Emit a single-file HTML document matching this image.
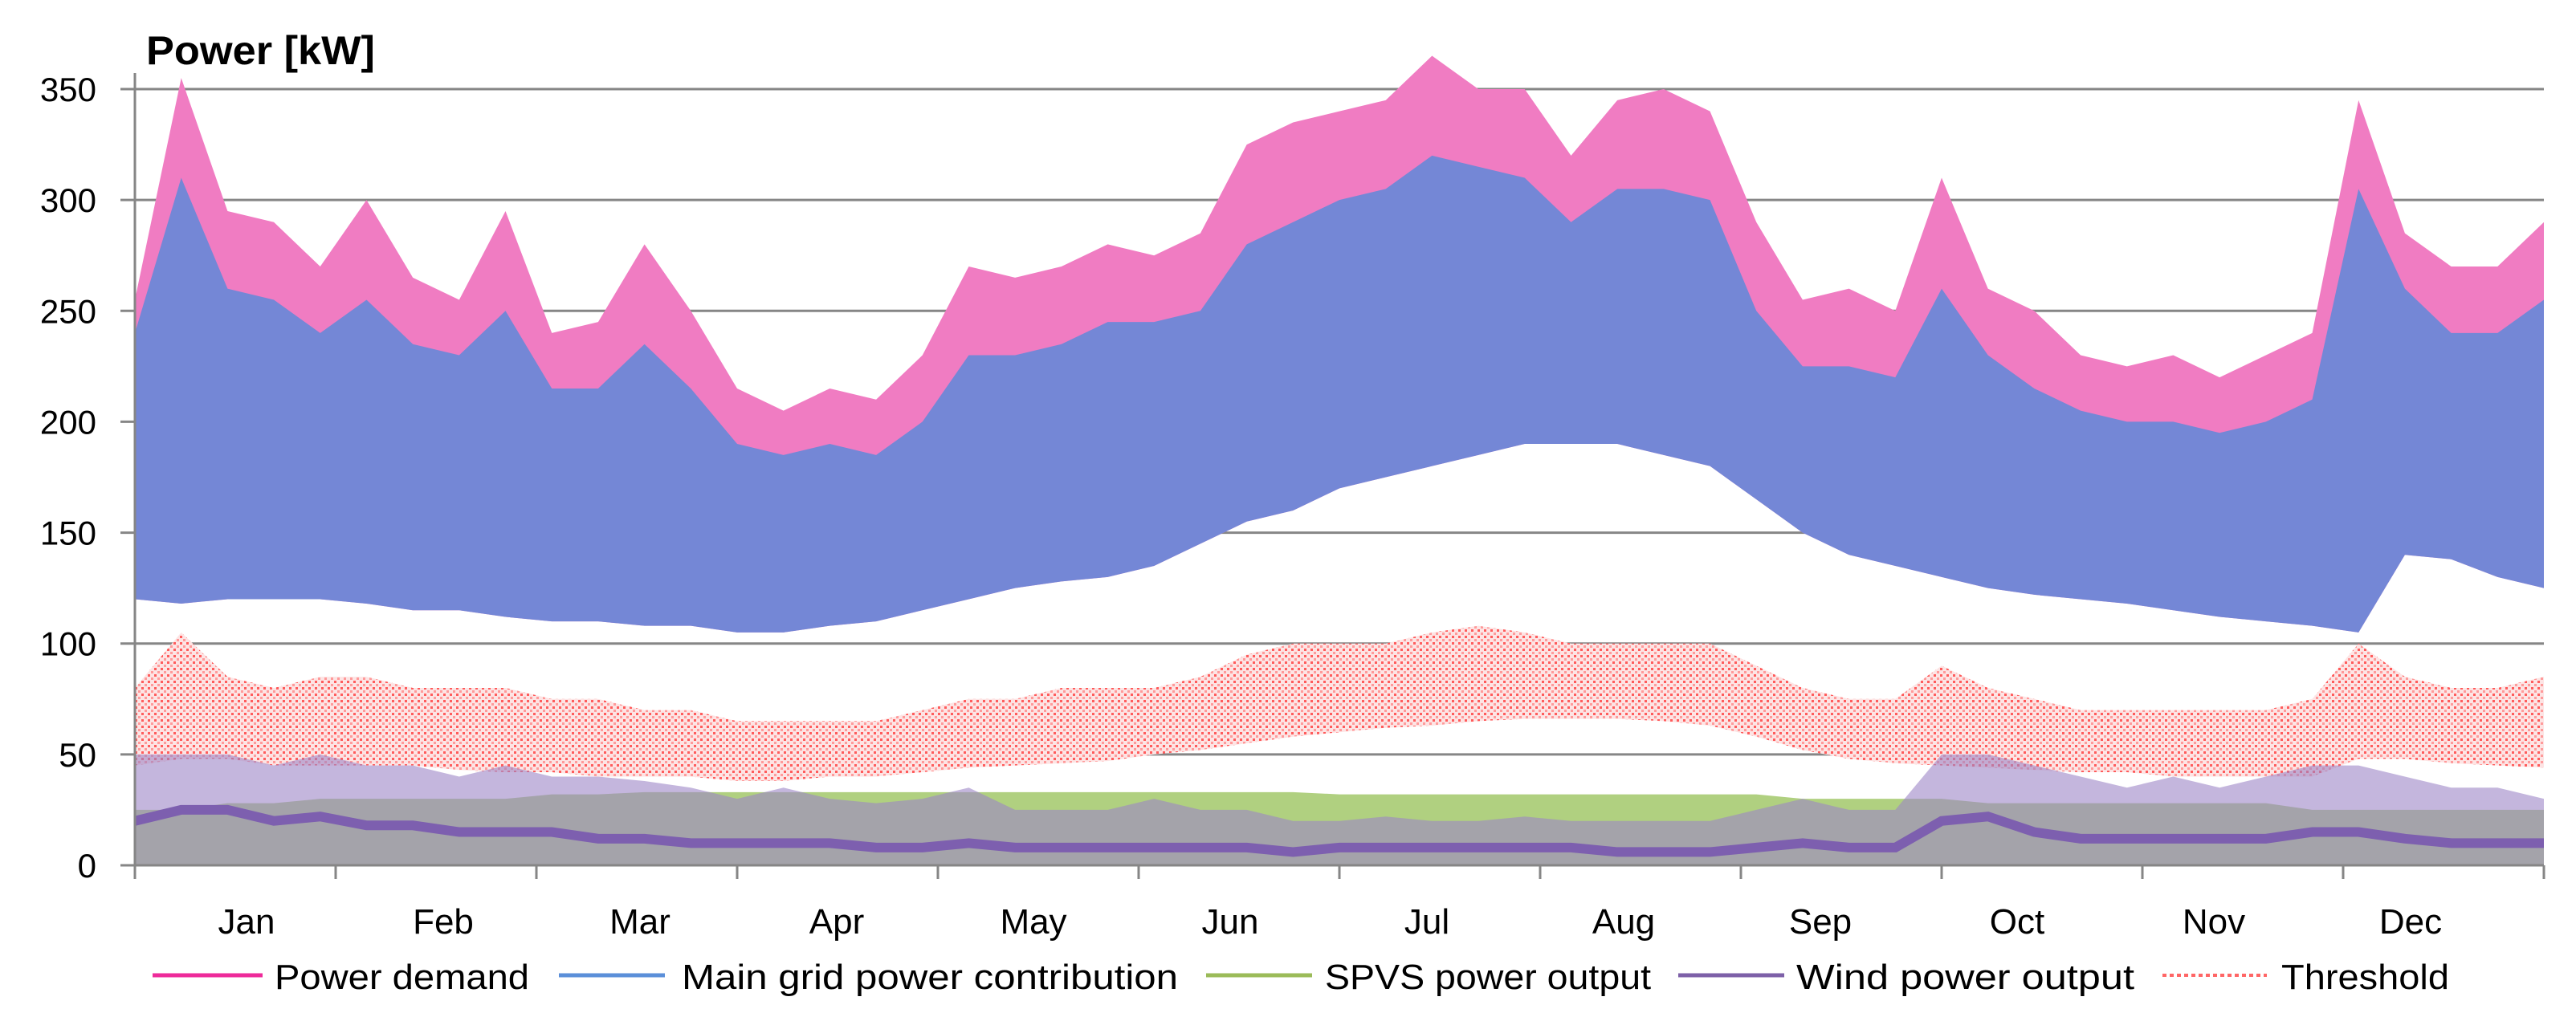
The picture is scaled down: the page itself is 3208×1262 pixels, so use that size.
<!DOCTYPE html>
<html><head><meta charset="utf-8"><style>
html,body{margin:0;padding:0;background:#fff;}
svg{display:block;font-family:"Liberation Sans",Arial,sans-serif;}
</style></head><body>
<svg id="chart" width="3208" height="1262" viewBox="0 0 3208 1262" xmlns="http://www.w3.org/2000/svg">
<defs>
<pattern id="dots" width="8" height="8" patternUnits="userSpaceOnUse">
<rect width="8" height="8" fill="#fde4e4"/><rect x="0" y="0" width="3" height="3" fill="#ff5c5c"/><rect x="4" y="4" width="3" height="3" fill="#ff9a9a"/>
</pattern>
</defs>
<g id="grid"></g>
<g id="series"></g>
<g id="axes"></g>
<text x="182" y="80" font-size="50" font-weight="bold" fill="#000" textLength="285" lengthAdjust="spacingAndGlyphs">Power [kW]</text>
<g id="legend"></g>
</svg>
<script>
const months = ["Jan","Feb","Mar","Apr","May","Jun","Jul","Aug","Sep","Oct","Nov","Dec"];
const yTicks = [0,50,100,150,200,250,300,350];
const demandMax = [255,355,295,290,270,300,265,255,295,240,245,280,250,215,205,215,210,230,270,265,270,280,275,285,325,335,340,345,365,350,350,320,345,350,340,290,255,260,250,310,260,250,230,225,230,220,230,240,345,285,270,270,290];
const gridMax = [240,310,260,255,240,255,235,230,250,215,215,235,215,190,185,190,185,200,230,230,235,245,245,250,280,290,300,305,320,315,310,290,305,305,300,250,225,225,220,260,230,215,205,200,200,195,200,210,305,260,240,240,255];
const gridMin = [120,118,120,120,120,118,115,115,112,110,110,108,108,105,105,108,110,115,120,125,128,130,135,145,155,160,170,175,180,185,190,190,190,185,180,165,150,140,135,130,125,122,120,118,115,112,110,108,105,140,138,130,125];
const thrMax = [80,105,85,80,85,85,80,80,80,75,75,70,70,65,65,65,65,70,75,75,80,80,80,85,95,100,100,100,105,108,105,100,100,100,100,90,80,75,75,90,80,75,70,70,70,70,70,75,100,85,80,80,85];
const thrMin = [45,48,48,45,45,45,45,43,42,42,40,40,40,38,38,40,40,42,44,45,46,47,50,52,55,58,60,62,63,65,66,66,66,65,63,58,52,48,46,45,44,43,42,42,40,40,40,40,48,48,46,45,44];
const solarMax = [25,25,28,28,30,30,30,30,30,32,32,33,33,33,33,33,33,33,33,33,33,33,33,33,33,33,32,32,32,32,32,32,32,32,32,32,30,30,30,30,28,28,28,28,28,28,28,25,25,25,25,25,25];
const windMax = [50,50,50,45,50,45,45,40,45,40,40,38,35,30,35,30,28,30,35,25,25,25,30,25,25,20,20,22,20,20,22,20,20,20,20,25,30,25,25,50,50,45,40,35,40,35,40,45,45,40,35,35,30];
const windTyp = [20,25,25,20,22,18,18,15,15,15,12,12,10,10,10,10,8,8,10,8,8,8,8,8,8,6,8,8,8,8,8,8,6,6,6,8,10,8,8,20,22,15,12,12,12,12,12,15,15,12,10,10,10];

const NS="http://www.w3.org/2000/svg";
const X0=168, X1=3168, Y0=1078, YTOP=111;
const yS = v => Y0 - v*(Y0-YTOP)/350;
const xS = i => X0 + i*(X1-X0)/(demandMax.length-1);
function mk(tag, attrs, parent){const e=document.createElementNS(NS,tag);for(const k in attrs)e.setAttribute(k,attrs[k]);parent.appendChild(e);return e;}
function band(top, bot){let p=top.map((v,i)=>xS(i)+","+yS(v));for(let i=bot.length-1;i>=0;i--)p.push(xS(i)+","+yS(bot[i]));return p.join(" ");}
function line(arr){return arr.map((v,i)=>xS(i)+","+yS(v)).join(" ");}
const zeros = demandMax.map(()=>0);

const grid=document.getElementById('grid');
yTicks.forEach(v=>{
  if(v>0){const g=mk('line',{x1:X0,x2:X1,y1:yS(v),y2:yS(v),stroke:'#868686','stroke-width':3},grid);
  
  }
});

const s=document.getElementById('series');
let e;
e=mk('polygon',{points:band(thrMax,thrMin),fill:'url(#dots)'},s);


e=mk('polygon',{points:band(demandMax,gridMin),fill:'#f07cc2'},s);


e=mk('polygon',{points:band(gridMax,gridMin),fill:'#7487d6'},s);


e=mk('polygon',{points:band(solarMax,zeros),fill:'#b0d080'},s);


e=mk('polygon',{points:band(windMax,zeros),fill:'#9c85c6','fill-opacity':0.6},s);


e=mk('polyline',{points:line(windTyp),fill:'none',stroke:'#7d5faf','stroke-width':12},s);



const ax=document.getElementById('axes');
e=mk('line',{x1:X0,x2:X0,y1:YTOP-20,y2:Y0+17,stroke:'#868686','stroke-width':3},ax);


e=mk('line',{x1:X0-18,x2:X1,y1:Y0,y2:Y0,stroke:'#868686','stroke-width':3},ax);


yTicks.forEach(v=>{
  const t=mk('line',{x1:X0-18,x2:X0,y1:yS(v),y2:yS(v),stroke:'#868686','stroke-width':3},ax);
  
  
  const l=mk('text',{x:120,y:yS(v)+15,'font-size':42,'text-anchor':'end',fill:'#000'},ax);
  l.textContent=v;
  
  
});
for(let i=0;i<=months.length;i++){
  const x=X0+i*(X1-X0)/months.length;
  const t=mk('line',{x1:x,x2:x,y1:Y0,y2:Y0+17,stroke:'#868686','stroke-width':3},ax);
  
  
}
months.forEach((m,i)=>{
  const l=mk('text',{x:307+i*245,y:1163,'font-size':44,'text-anchor':'middle',fill:'#000'},ax);
  l.textContent=m;
  
  
});

const lg=document.getElementById('legend');
const leg=[
 ["Power demand","#ee2a9a",190,327,342,317,null],
 ["Main grid power contribution","#5b8fd9",696,828,849,618,null],
 ["SPVS power output","#9bbb59",1502,1634,1650,406,null],
 ["Wind power output","#7d60a8",2090,2222,2237,421,null],
 ["Threshold","#ff6666",2693,2823,2841,209,"5,4"]
];
leg.forEach(d=>{
  const a={x1:d[2],x2:d[3],y1:1215,y2:1215,stroke:d[1],'stroke-width':d[6]?4:5};
  if(d[6])a['stroke-dasharray']=d[6];
  const ln=mk('line',a,lg);
  
  
  const t=mk('text',{x:d[4],y:1232,'font-size':44,fill:'#000',textLength:d[5],lengthAdjust:'spacingAndGlyphs'},lg);
  t.textContent=d[0];
  
  
});
</script>
</body></html>
